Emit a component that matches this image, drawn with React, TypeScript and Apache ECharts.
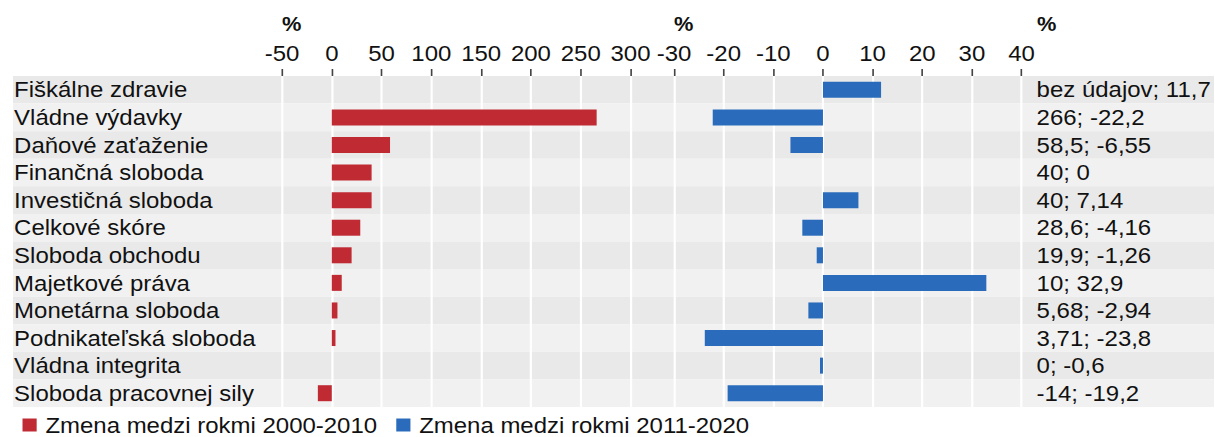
import React, { useEffect, useRef } from "react";
import * as echarts from "echarts";

const categories = [
  "Fiškálne zdravie",
  "Vládne výdavky",
  "Daňové zaťaženie",
  "Finančná sloboda",
  "Investičná sloboda",
  "Celkové skóre",
  "Sloboda obchodu",
  "Majetkové práva",
  "Monetárna sloboda",
  "Podnikateľská sloboda",
  "Vládna integrita",
  "Sloboda pracovnej sily",
];
const change2000_2010: (number | null)[] = [null, 266, 58.5, 40, 40, 28.6, 19.9, 10, 5.68, 3.71, 0, -14];
const change2011_2020 = [11.7, -22.2, -6.55, 0, 7.14, -4.16, -1.26, 32.9, -2.94, -23.8, -0.6, -19.2];
const seriesNames = ["Zmena medzi rokmi 2000-2010", "Zmena medzi rokmi 2011-2020"];
const leftAxis = { min: -50, max: 300, interval: 50 };
const rightAxis = { min: -30, max: 40, interval: 10 };
const noDataText = "bez údajov";
const unitText = "%";

const fmt = (v: number | null) => (v === null ? noDataText : String(v).replace(".", ","));
const rightLabels = categories.map((_, i) => `${fmt(change2000_2010[i])}; ${fmt(change2011_2020[i])}`);

const S = 1.09;
const W = 1215;
const H = 437;
const X = (px: number) => px / S;
const FONT = "'Liberation Sans', Arial, Helvetica, sans-serif";
const RED = "#bf2a33";
const BLUE = "#2a6cbb";
const TXT = "#111";

export default function App() {
  const ref = useRef<HTMLDivElement>(null);
  useEffect(() => {
    if (!ref.current) return;
    const chart = echarts.init(ref.current, null, { renderer: "svg" });
    const gridTop = 76;
    const gridH = 331;
    const xAxisCommon = (range: { min: number; max: number; interval: number }, gridIndex: number) => ({
      type: "value",
      gridIndex,
      position: "top",
      min: range.min,
      max: range.max,
      interval: range.interval,
      z: 1,
      axisLine: { show: false },
      axisTick: { show: true, length: 7, lineStyle: { color: "#444", width: 1.5 } },
      axisLabel: { fontSize: 22, color: TXT, margin: 12, fontFamily: FONT },
      splitLine: { show: true, lineStyle: { color: "#ffffff", width: 2 } },
    });
    chart.setOption({
      animation: false,
      textStyle: { fontFamily: FONT },
      title: [
        { text: unitText, left: X(282), top: 14, padding: 0, textStyle: { fontSize: 20, fontWeight: "bold", color: TXT, fontFamily: FONT } },
        { text: unitText, left: X(674), top: 14, padding: 0, textStyle: { fontSize: 20, fontWeight: "bold", color: TXT, fontFamily: FONT } },
        { text: unitText, left: X(1037), top: 14, padding: 0, textStyle: { fontSize: 20, fontWeight: "bold", color: TXT, fontFamily: FONT } },
      ],
      legend: {
        left: X(22.5),
        top: 414,
        padding: 0,
        itemWidth: 13,
        itemHeight: 13,
        itemGap: X(19),
        icon: "rect",
        selectedMode: false,
        textStyle: { fontSize: 22, lineHeight: 20, color: TXT, fontFamily: FONT, padding: [0, 0, 0, 3] },
        data: seriesNames,
      },
      grid: [
        { left: X(13), width: X(1201), top: gridTop, height: gridH, containLabel: false },
        { left: X(282), width: X(348.5), top: gridTop, height: gridH, containLabel: false },
        { left: X(674), width: X(347.6), top: gridTop, height: gridH, containLabel: false },
      ],
      xAxis: [
        { type: "value", gridIndex: 0, show: false, min: 0, max: 1 },
        xAxisCommon(leftAxis, 1),
        xAxisCommon(rightAxis, 2),
      ],
      yAxis: [
        {
          type: "category",
          gridIndex: 0,
          data: categories,
          inverse: true,
          z: 0,
          axisLine: { show: false },
          axisTick: { show: false, interval: 0 },
          axisLabel: { inside: true, interval: 0, margin: 1, fontSize: 22, color: TXT, fontFamily: FONT },
          splitArea: { show: true, interval: 0, areaStyle: { color: ["#e9e9e9", "#f1f1f1"] } },
        },
        { type: "category", gridIndex: 1, data: categories, inverse: true, show: false },
        {
          type: "category",
          gridIndex: 2,
          data: rightLabels,
          inverse: true,
          position: "right",
          z: 1,
          axisLine: { show: false },
          axisTick: { show: false, interval: 0 },
          axisLabel: { interval: 0, margin: X(15), align: "left", fontSize: 22, color: TXT, fontFamily: FONT },
        },
      ],
      series: [
        {
          name: seriesNames[0],
          type: "bar",
          xAxisIndex: 1,
          yAxisIndex: 1,
          data: change2000_2010,
          barWidth: 16,
          itemStyle: { color: RED },
        },
        {
          name: seriesNames[1],
          type: "bar",
          xAxisIndex: 2,
          yAxisIndex: 2,
          data: change2011_2020,
          barWidth: 16,
          itemStyle: { color: BLUE },
        },
      ],
    });
    return () => chart.dispose();
  }, []);
  return (
    <div
      ref={ref}
      style={{
        position: "absolute",
        left: 0,
        top: 0,
        width: W / S,
        height: H,
        transform: `scaleX(${S})`,
        transformOrigin: "0 0",
        background: "#ffffff",
      }}
    />
  );
}
